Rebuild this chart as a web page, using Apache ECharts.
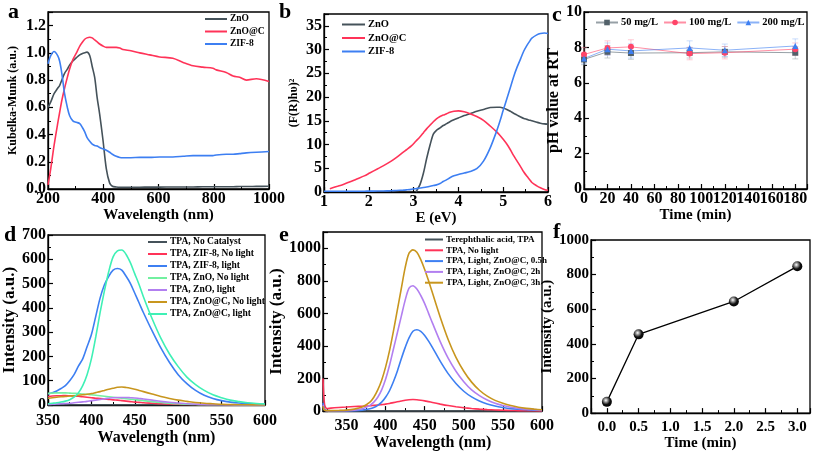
<!DOCTYPE html>
<html><head><meta charset="utf-8">
<script src="https://cdn.jsdelivr.net/npm/echarts@6/dist/echarts.min.js"></script>
<style>html,body{margin:0;padding:0;background:#fff}#c{width:813px;height:452px}</style>
</head><body><div id="c"></div>
<script>
// ---------- Panel a: Kubelka-Munk ----------
const aX = [200,210,222,235,242,250,260,270,278,290,303,315,325,333,341,351,360,369,378,387,399,411,423,433,447,460,471,500,532,568,604,652,689,725,760,797,809,845,870,894,918,954,1000];
const aZnO = [0.60,0.64,0.70,0.74,0.76,0.80,0.85,0.88,0.91,0.94,0.965,0.985,0.995,1.0,1.005,0.98,0.90,0.82,0.67,0.55,0.36,0.15,0.045,0.02,0.015,0.013,0.013,0.013,0.013,0.014,0.014,0.015,0.015,0.015,0.016,0.016,0.016,0.017,0.017,0.018,0.018,0.019,0.02];
const aZnOC = [0.03,0.15,0.32,0.48,0.56,0.65,0.74,0.82,0.88,0.95,1.0,1.05,1.08,1.10,1.11,1.115,1.11,1.095,1.08,1.065,1.05,1.04,1.04,1.04,1.04,1.035,1.025,1.015,1.0,0.985,0.97,0.96,0.93,0.905,0.895,0.887,0.875,0.855,0.83,0.82,0.80,0.81,0.79];
const aZIF = [0.92,0.98,1.01,0.98,0.94,0.85,0.70,0.60,0.54,0.50,0.49,0.48,0.45,0.42,0.38,0.35,0.33,0.32,0.315,0.305,0.295,0.285,0.27,0.255,0.24,0.232,0.23,0.23,0.232,0.232,0.235,0.235,0.24,0.245,0.245,0.245,0.25,0.255,0.255,0.26,0.265,0.27,0.275];

// ---------- Panel b: Tauc ----------
const bX = [1.0,1.13,1.3,1.43,1.6,1.72,1.9,2.02,2.2,2.32,2.5,2.62,2.77,2.84,2.95,3.05,3.14,3.22,3.29,3.37,3.44,3.51,3.59,3.66,3.74,3.81,3.9,4.0,4.13,4.26,4.41,4.56,4.71,4.86,4.93,5.0,5.08,5.16,5.23,5.31,5.39,5.46,5.53,5.6,5.64,5.75,5.83,5.92,6.0];
const bZnO = [null,null,null,null,null,null,null,null,null,null,null,null,null,null,null,0.0,1.5,4.0,7.0,10.0,12.2,13.0,13.5,14.0,14.4,14.8,15.2,15.6,16.1,16.5,17.0,17.4,17.8,17.85,17.85,17.7,17.4,17.0,16.6,16.2,15.8,15.5,15.3,15.1,15.0,14.7,14.5,14.35,14.3];
const bZnOC = [null,0.7,1.2,1.6,2.2,2.7,3.4,4.0,4.9,5.5,6.5,7.3,8.4,8.9,9.7,10.7,11.6,12.5,13.3,14.1,14.8,15.4,15.9,16.2,16.5,16.8,17.0,17.1,16.9,16.5,15.9,15.1,13.9,12.6,11.9,11.1,10.1,8.9,7.7,6.5,5.3,4.2,3.3,2.5,2.0,1.3,0.9,0.55,0.35];
const bZIF = [0.15,0.15,0.15,0.15,0.15,0.16,0.17,0.18,0.2,0.22,0.27,0.32,0.4,0.45,0.55,0.7,0.85,0.95,1.05,1.2,1.35,1.5,1.8,2.2,2.6,3.0,3.4,3.7,4.0,4.3,4.9,6.5,9.3,13.0,15.0,17.2,19.6,22.0,24.2,26.3,28.1,29.7,30.9,31.9,32.4,33.1,33.4,33.5,33.4];

// ---------- Panel c: pH ----------
const cTime = [0,20,40,90,120,180];
const c50 = [7.32,7.75,7.68,7.7,7.75,7.7];
const c100 = [7.6,7.97,8.03,7.65,7.7,7.9];
const c200 = [7.37,7.9,7.8,7.97,7.84,8.08];
const c50Err = [0.3,0.35,0.35,0.3,0.3,0.35];
const c100Err = [0.4,0.4,0.4,0.35,0.35,0.35];
const c200Err = [0.3,0.35,0.4,0.4,0.35,0.4];

// ---------- Panel d: PL spectra ----------
const dX = [350,355,360,365,370,375,380,385,390,395,400,405,410,415,420,425,430,435,440,445,450,455,460,470,480,490,500,510,520,530,540,550,560,570,580,590,600];
const dNoCat = [1,1,1,1,1,1,1,1,1,1,1,1,1,1,1,1,1,1,1,1,1,1,1,1,1,1,1,1,1,1,1,1,1,1,1,1,1];
const dZifDark = [35,37,38,38,39,38,37,36,34,32,30,28,27,25,23,21,20,18,16,14,12,11,9,7,5,4,3,2,2,1,1,1,0,0,0,0,0];
const dZifLight = [45,50,58,68,80,100,125,160,190,240,290,365,440,495,530,555,562,555,530,500,460,420,380,305,235,175,125,88,60,40,27,18,12,8,6,4,3];
const dZnODark = [48,49,50,50,50,49,48,47,45,44,42,40,38,36,34,32,30,28,26,24,22,20,18,14,10,7,5,3,2,1,1,1,1,0,0,0,0];
const dZnOLight = [2,3,4,5,6,7,9,11,13,15,18,20,23,26,28,30,31,31,31,30,29,27,25,20,15,11,8,5,3,2,1,1,1,0,0,0,0];
const dZnOCDark = [28,30,32,34,35,37,38,40,42,44,47,51,55,60,65,69,73,74,72,69,65,60,55,45,35,27,20,15,10,7,5,3,2,1,1,0,0];
const dZnOCLight = [5,7,9,12,16,22,32,50,80,125,190,280,380,470,550,610,635,638,620,585,540,495,445,355,275,210,158,115,84,60,42,30,20,14,9,6,4];

// ---------- Panel e: PL vs time ----------
const eX = [320,322,325,330,340,350,360,370,380,385,390,395,400,405,410,415,420,425,430,435,440,445,450,455,460,470,480,490,500,510,520,530,540,550,560,570,580,590,600];
const eTPA = [90,10,2,1,1,1,1,1,1,1,1,1,1,1,1,1,1,1,1,1,1,1,1,1,1,1,1,1,1,1,1,1,1,1,1,1,1,1,1];
const eDark = [200,40,15,18,22,25,28,30,33,35,37,40,43,47,52,57,62,67,70,71,70,67,63,58,53,43,34,27,21,16,12,9,7,5,4,3,2,2,1];
const e05 = [50,8,3,2,2,2,3,6,14,22,35,55,85,125,180,245,320,390,450,490,500,490,465,430,390,305,230,170,122,87,62,44,31,22,15,11,8,6,4];
const e2 = [40,6,2,2,2,3,6,14,35,55,85,130,195,280,380,480,580,680,755,770,750,710,660,600,540,425,325,245,180,130,95,68,48,34,24,17,12,9,6];
const e3 = [30,5,3,3,4,6,12,25,55,85,130,190,270,370,490,620,750,880,970,990,975,930,870,800,725,575,440,330,245,178,128,92,66,48,34,24,17,12,8];

// ---------- Panel f: intensity vs time ----------
const fTime = [0,0.5,2,3];
const fIntensity = [65,455,645,848];

const FF = "'Liberation Serif','Times New Roman',serif";
const zip = (xs, ys) => xs.map((x, i) => [x, ys[i]]);
const plain = v => String(v);

function axis(gi, o) {
  const ax = {
    type: 'value', gridIndex: gi, min: o.min, max: o.max,
    axisLine: { show: true, onZero: false, lineStyle: { color: '#000', width: 1.3 } },
    axisTick: { show: true, inside: true, length: 5, lineStyle: { color: '#000', width: 1.2 } },
    minorTick: { show: true, splitNumber: 2, length: 3, lineStyle: { color: '#000', width: 1 } },
    splitLine: { show: false },
    axisLabel: { color: '#000', fontFamily: FF, fontWeight: 'bold', fontSize: o.fs || 15, margin: o.margin == null ? 2 : o.margin,
      showMaxLabel: o.showMax !== false, showMinLabel: o.showMin !== false, hideOverlap: false, formatter: o.formatter || plain },
    name: o.name, nameLocation: 'middle', nameGap: o.nameGap,
    nameTextStyle: { color: '#000', fontFamily: FF, fontWeight: 'bold', fontSize: o.nfs || 15 }
  };
  if (o.interval != null) ax.interval = o.interval;
  if (o.splitNumber != null) ax.splitNumber = o.splitNumber;
  return ax;
}

const grids = [
  { left: 48, top: 12, width: 221, height: 177 },
  { left: 324, top: 14, width: 224, height: 178 },
  { left: 584, top: 12, width: 223, height: 177 },
  { left: 37, top: 235, width: 228, height: 170 },
  { left: 323, top: 232, width: 219, height: 180 },
  { left: 591, top: 240, width: 219, height: 175 }
].map(g => Object.assign({ show: true, borderColor: '#000', borderWidth: 1.3, backgroundColor: 'transparent' }, g));

const xAxes = [
  axis(0, { min: 200, max: 1000, interval: 200, name: 'Wavelength (nm)', nameGap: 13, fs: 16 }),
  axis(1, { min: 1, max: 6, interval: 1, name: 'E (eV)', nameGap: 13, fs: 16 }),
  axis(2, { min: 0, max: 190, interval: 20, name: 'Time (min)', nameGap: 14, showMax: false, fs: 16 }),
  axis(3, { min: 350, max: 600, interval: 50, name: 'Wavelength (nm)', nameGap: 20, margin: 8, fs: 16, nfs: 16 }),
  axis(4, { min: 320, max: 600, splitNumber: 5, name: 'Wavelength (nm)', nameGap: 20, margin: 7, showMin: false, fs: 16, nfs: 16 }),
  axis(5, { min: -0.25, max: 3.2, splitNumber: 7, name: 'Time (min)', nameGap: 19, margin: 7, showMin: false, showMax: false,
    formatter: v => v.toFixed(1) })
];
const yAxes = [
  axis(0, { min: 0, max: 1.3, interval: 0.2, name: 'Kubelka-Munk (a.u.)', nameGap: 29, nfs: 12, showMax: false, fs: 16, formatter: v => v.toFixed(1) }),
  axis(1, { min: 0, max: 37.5, interval: 5, name: '(F(R)hυ)²', nameGap: 24, nfs: 12, showMax: false, fs: 16 }),
  axis(2, { min: 0, max: 10, interval: 2, name: 'pH value at RT', nameGap: 20, nfs: 16, fs: 16 }),
  axis(3, { min: 0, max: 700, interval: 100, name: 'Intensity (a.u.)', nameGap: 30, nfs: 17, fs: 16 }),
  axis(4, { min: 0, max: 1100, interval: 200, name: 'Intensity (a.u.)', nameGap: 38, nfs: 17, showMax: false, fs: 16 }),
  axis(5, { min: 0, max: 1000, interval: 200, name: 'Intensity (a.u.)', nameGap: 34, nfs: 15 })
];

function lineS(name, gi, xs, ys, color, w) {
  return { name, type: 'line', xAxisIndex: gi, yAxisIndex: gi, data: zip(xs, ys), showSymbol: false, symbol: 'none',
    smooth: 0.3, connectNulls: false, lineStyle: { color, width: w || 1.6 }, itemStyle: { color }, z: 3, animation: false };
}
function pointS(name, xs, ys, color, symbol) {
  return { name, type: 'line', xAxisIndex: 2, yAxisIndex: 2, data: zip(xs, ys), symbol, symbolSize: 6,
    lineStyle: { color, width: 1, opacity: 0.6 }, itemStyle: { color }, z: 4, animation: false };
}
function errS(xs, ys, es, color) {
  return { type: 'custom', xAxisIndex: 2, yAxisIndex: 2, data: xs.map((x, i) => [x, ys[i], es[i]]), z: 2, animation: false,
    renderItem: (params, api) => {
      const x = api.value(0), y = api.value(1), e = api.value(2);
      const p1 = api.coord([x, y + e]), p2 = api.coord([x, y - e]);
      const st = { stroke: color, lineWidth: 1, opacity: 0.45 };
      return { type: 'group', children: [
        { type: 'line', shape: { x1: p1[0], y1: p1[1], x2: p2[0], y2: p2[1] }, style: st },
        { type: 'line', shape: { x1: p1[0] - 3, y1: p1[1], x2: p1[0] + 3, y2: p1[1] }, style: st },
        { type: 'line', shape: { x1: p2[0] - 3, y1: p2[1], x2: p2[0] + 3, y2: p2[1] }, style: st }
      ] };
    } };
}

const GREY = '#45525a', RED = '#ff3358', BLUE = '#3d7ff2', PURPLE = '#b27ff0', GOLD = '#c8961e', MINT = '#3ff0b5', LGREEN = '#72f0a0';

const series = [
  lineS('ZnO', 0, aX, aZnO, GREY), lineS('ZnO@C', 0, aX, aZnOC, RED), lineS('ZIF-8', 0, aX, aZIF, BLUE),
  lineS('ZnO ', 1, bX, bZnO, GREY), lineS('ZnO@C ', 1, bX, bZnOC, RED), lineS('ZIF-8 ', 1, bX, bZIF, BLUE),
  errS(cTime, c50, c50Err, '#8a969c'), errS(cTime, c100, c100Err, '#ff8aa0'), errS(cTime, c200, c200Err, '#8ab4f8'),
  pointS('50 mg/L', cTime, c50, '#52616a', 'rect'), pointS('100 mg/L', cTime, c100, '#ff4468', 'circle'), pointS('200 mg/L', cTime, c200, '#3d7ff2', 'triangle'),
  lineS('TPA, No Catalyst', 3, dX, dNoCat, GREY), lineS('TPA, ZIF-8, No light', 3, dX, dZifDark, RED), lineS('TPA, ZIF-8, light', 3, dX, dZifLight, BLUE),
  lineS('TPA, ZnO, No light', 3, dX, dZnODark, LGREEN), lineS('TPA, ZnO, light', 3, dX, dZnOLight, PURPLE),
  lineS('TPA, ZnO@C, No light', 3, dX, dZnOCDark, GOLD), lineS('TPA, ZnO@C, light', 3, dX, dZnOCLight, MINT),
  lineS('Terephthalic acid, TPA', 4, eX, eTPA, GREY), lineS('TPA, No light', 4, eX, eDark, RED), lineS('TPA, Light, ZnO@C, 0.5h', 4, eX, e05, BLUE),
  lineS('TPA, Light, ZnO@C, 2h', 4, eX, e2, PURPLE), lineS('TPA, Light, ZnO@C, 3h', 4, eX, e3, GOLD),
  { name: 'f', type: 'line', xAxisIndex: 5, yAxisIndex: 5, data: zip(fTime, fIntensity), symbol: 'circle', symbolSize: 10,
    lineStyle: { color: '#000', width: 1.3 }, animation: false, z: 4,
    itemStyle: { borderWidth: 0, color: { type: 'radial', x: 0.4, y: 0.35, r: 0.7, colorStops: [
      { offset: 0, color: '#ffffff' }, { offset: 0.25, color: '#9a9a9a' }, { offset: 0.6, color: '#111' }, { offset: 1, color: '#000' } ] } } }
];

function legend(data, left, top, fs, gap, iw) {
  return { data, left, top, orient: 'vertical', icon: 'rect', itemWidth: iw || 20, itemHeight: 2, itemGap: gap, padding: 0, selectedMode: false,
    textStyle: { color: '#000', fontFamily: FF, fontWeight: 'bold', fontSize: fs, padding: [0, 0, 0, -2] } };
}

const legends = [
  legend(['ZnO', 'ZnO@C', 'ZIF-8'], 205, 14, 9.5, 2.5, 22),
  legend(['ZnO ', 'ZnO@C ', 'ZIF-8 '], 342, 19, 10.5, 2.5, 23),
  { data: ['50 mg/L', '100 mg/L', '200 mg/L'], left: 595, top: 17, orient: 'horizontal', itemWidth: 22, itemHeight: 7, itemGap: 5, padding: 0, selectedMode: false,
    textStyle: { color: '#000', fontFamily: FF, fontWeight: 'bold', fontSize: 10.5, padding: [0, 0, 0, -2] } },
  legend(['TPA, No Catalyst', 'TPA, ZIF-8, No light', 'TPA, ZIF-8, light', 'TPA, ZnO, No light', 'TPA, ZnO, light', 'TPA, ZnO@C, No light', 'TPA, ZnO@C, light'], 148, 237, 9.5, 2, 19),
  legend(['Terephthalic acid, TPA', 'TPA, No light', 'TPA, Light, ZnO@C, 0.5h', 'TPA, Light, ZnO@C, 2h', 'TPA, Light, ZnO@C, 3h'], 425, 235, 9, 1.8, 18)
];

const letters = [['a', 8, 1], ['b', 279, 1], ['c', 552, 4], ['d', 4, 224], ['e', 279, 224], ['f', 553, 221]];
const graphic = letters.map(([t, x, y]) => ({ type: 'text', left: x, top: y, style: { text: t, font: 'bold 22px ' + FF, fill: '#000' } }));

const chart = echarts.init(document.getElementById('c'), null, { renderer: 'canvas' });
chart.setOption({ animation: false, backgroundColor: '#fff', grid: grids, xAxis: xAxes, yAxis: yAxes, series, legend: legends, graphic });
</script></body></html>
